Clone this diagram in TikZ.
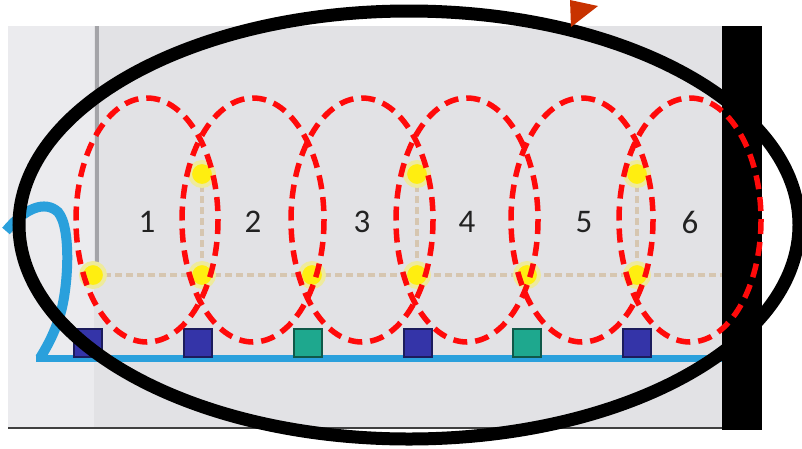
\documentclass[tikz,border=0pt]{standalone}
\usepackage{fontspec}
\setmainfont{Carlito}
\definecolor{bggray}{HTML}{E2E2E5}
\definecolor{bglight}{HTML}{EBEBEE}
\definecolor{edgegray}{HTML}{404040}
\definecolor{vgray}{HTML}{A4A4A8}
\definecolor{tan}{HTML}{D6C6B0}
\definecolor{skyblue}{HTML}{2AA0DC}
\definecolor{navyfill}{HTML}{3434A8}
\definecolor{navyedge}{HTML}{1C1C5C}
\definecolor{tealfill}{HTML}{1EA88E}
\definecolor{tealedge}{HTML}{105848}
\definecolor{dotyellow}{HTML}{FFEE10}
\definecolor{glow}{HTML}{EEEA9C}
\definecolor{markred}{HTML}{FF0A0A}
\definecolor{arroworange}{HTML}{C83200}
\definecolor{labelgray}{HTML}{222222}
\tikzset{
  ydot/.style={circle, fill=dotyellow, draw=glow, line width=4pt, minimum size=24pt, inner sep=0pt},
  sq/.style={rectangle, minimum size=28pt, inner sep=0pt, line width=2.5pt},
  navysq/.style={sq, fill=navyfill, draw=navyedge},
  tealsq/.style={sq, fill=tealfill, draw=tealedge},
  dotline/.style={draw=tan, line width=4pt, dash pattern=on 7pt off 4pt},
  redring/.style={draw=markred, line width=5.5pt, dash pattern=on 14pt off 8pt},
  numlabel/.style={text=labelgray, font=\fontsize{33}{38}\selectfont, inner sep=0pt}
}
\begin{document}
\begin{tikzpicture}[x=1pt,y=-1pt]
\useasboundingbox (0,0) rectangle (802,448);
\fill[white] (0,0) rectangle (802,448);
% screenshot background
\fill[bggray] (8,26) rectangle (722,428);
\fill[bglight] (8,26) rectangle (94,428);
\draw[edgegray, line width=2pt] (8,428) -- (722,428);
\fill[black] (722,26) rectangle (762,430);
% guide coordinates
\coordinate (vtop) at (97,26);
\coordinate (vbot) at (97,266);
\coordinate (bend) at (722,275);
\coordinate (lstart) at (36,358);
\coordinate (lend) at (722,358);
% axis and dotted guides
\draw[vgray, line width=4pt] (vtop) -- (vbot);
\coordinate (pb1) at (93,275);
\coordinate (pb2) at (202,275);
\coordinate (pb3) at (312,275);
\coordinate (pb4) at (417,275);
\coordinate (pb5) at (527,275);
\coordinate (pb6) at (637,275);
\coordinate (pt1) at (202,174);
\coordinate (pt2) at (417,174);
\coordinate (pt3) at (637,174);
\draw[dotline] (pb1) -- (bend);
\draw[dotline] (pt1) -- (pb2);
\draw[dotline] (pt2) -- (pb4);
\draw[dotline] (pt3) -- (pb6);
% blue line and curve
\draw[skyblue, line width=7pt] (lstart) -- (lend);
\draw[skyblue, line width=10pt] (6,231) .. controls (25,208) and (45,200) .. (58,212) .. controls (72,228) and (68,290) .. (60,315) .. controls (54,335) and (45,350) .. (40,358);
% squares
\node[navysq] (s1) at (88,343) {};
\node[navysq] (s2) at (198,343) {};
\node[tealsq] (s3) at (308,343) {};
\node[navysq] (s4) at (418,343) {};
\node[tealsq] (s5) at (527,343) {};
\node[navysq] (s6) at (637,343) {};
% yellow dots
\node[ydot] (t1) at (pt1) {};
\node[ydot] (t2) at (pt2) {};
\node[ydot] (t3) at (pt3) {};
\node[ydot] (b1) at (pb1) {};
\node[ydot] (b2) at (pb2) {};
\node[ydot] (b3) at (pb3) {};
\node[ydot] (b4) at (pb4) {};
\node[ydot] (b5) at (pb5) {};
\node[ydot] (b6) at (pb6) {};
% labels
\node[numlabel] (n1) at (147,222) {1};
\node[numlabel] (n2) at (253,222) {2};
\node[numlabel] (n3) at (362,222) {3};
\node[numlabel] (n4) at (467,222) {4};
\node[numlabel] (n5) at (584,222) {5};
\node[numlabel] (n6) at (690,222) {6};
% red dashed rings
\foreach \cx in {147,253,362,467,582,690}
  \draw[redring] (\cx,220) ellipse [x radius=71, y radius=122];
% big black ellipse
\draw[black, line width=13pt] (409,225) ellipse [x radius=390, y radius=214];
% orange arrow tip
\fill[arroworange] (570,0) -- (598,6) -- (571,27) -- cycle;
\end{tikzpicture}
\end{document}
